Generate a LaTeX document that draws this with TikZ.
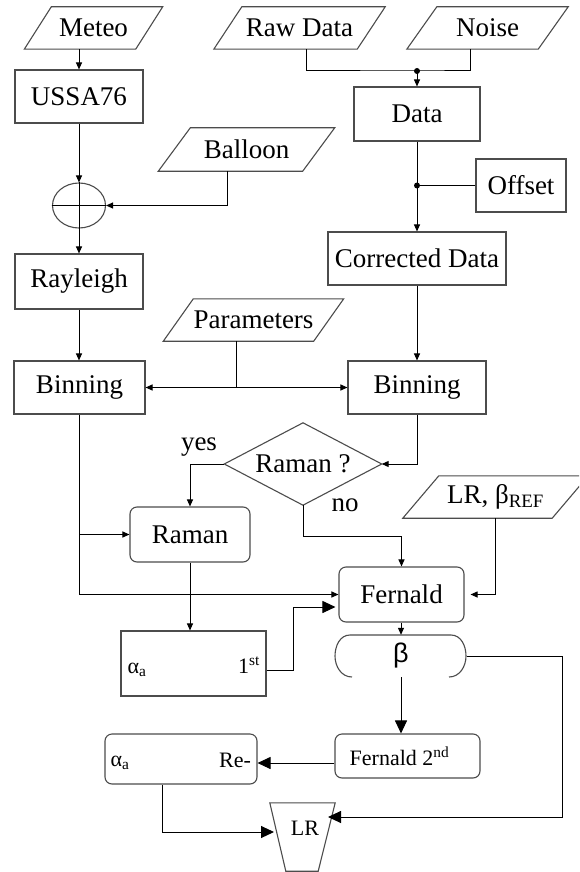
\documentclass[tikz,border=0pt]{standalone}
\usepackage{fontspec}
\setmainfont{Liberation Serif}
\newfontfamily\betafont{Liberation Sans}
\usetikzlibrary{arrows.meta,shapes.geometric,calc}
\definecolor{boxc}{gray}{0.3}
\begin{document}
\begin{tikzpicture}[x=1pt,y=-1pt,
  txt/.style={font=\fontsize{27}{30}\selectfont, inner sep=0pt},
  stxt/.style={font=\fontsize{22}{26}\selectfont, inner sep=0pt},
  boxline/.style={draw=boxc, line width=1.1pt},
  rbox/.style={boxline, txt},
  rrbox/.style={rbox, rounded corners=7pt},
  conn/.style={line width=1pt, draw=black},
  arr/.style={conn, -{Triangle[length=7pt,width=6pt]}},
  barr/.style={conn, -{Triangle[length=13pt,width=12pt]}},
  jdot/.style={circle, fill=black, inner sep=0pt, minimum size=6pt}
]
\useasboundingbox (0,0) rectangle (579,872);
\fill[white] (0,0) rectangle (579,872);

% ---------- parallelograms ----------
\node[txt, minimum width=111pt, minimum height=42pt] (meteo) at (93.5,28) {Meteo};
\draw[boxline] ([xshift=-13.5pt]meteo.south west) -- ([xshift=-13.5pt]meteo.south east) -- ([xshift=13.5pt]meteo.north east) -- ([xshift=13.5pt]meteo.north west) -- cycle;
\node[txt, minimum width=143pt, minimum height=42pt] (raw) at (299.5,28) {Raw Data};
\draw[boxline] ([xshift=-14pt]raw.south west) -- ([xshift=-14pt]raw.south east) -- ([xshift=14pt]raw.north east) -- ([xshift=14pt]raw.north west) -- cycle;
\node[txt, minimum width=131pt, minimum height=42pt] (noise) at (487.5,28) {Noise};
\draw[boxline] ([xshift=-15pt]noise.south west) -- ([xshift=-15pt]noise.south east) -- ([xshift=15pt]noise.north east) -- ([xshift=15pt]noise.north west) -- cycle;
\node[txt, minimum width=144pt, minimum height=43pt] (balloon) at (246.5,149.5) {Balloon};
\draw[boxline] ([xshift=-16pt]balloon.south west) -- ([xshift=-16pt]balloon.south east) -- ([xshift=16pt]balloon.north east) -- ([xshift=16pt]balloon.north west) -- cycle;
\node[txt, minimum width=150pt, minimum height=42pt] (param) at (253.5,320) {Parameters};
\draw[boxline] ([xshift=-15pt]param.south west) -- ([xshift=-15pt]param.south east) -- ([xshift=15pt]param.north east) -- ([xshift=15pt]param.north west) -- cycle;
\node[txt, minimum width=149pt, minimum height=42pt] (lrref) at (495.5,497) {LR, β\textsubscript{REF}};
\begin{scope}
\clip (0,0) rectangle (579,872);
\draw[boxline] ([xshift=-18pt]lrref.south west) -- ([xshift=-18pt]lrref.south east) -- ([xshift=18pt]lrref.north east) -- ([xshift=18pt]lrref.north west) -- cycle;
\end{scope}

% ---------- boxes ----------
\node[rbox, minimum width=128pt, minimum height=53pt] (ussa) at (79,96.5) {USSA76};
\node[boxline, ellipse, minimum width=53pt, minimum height=45pt, inner sep=0pt] (sum) at (79,205.5) {};
\node[rbox, minimum width=128pt, minimum height=55pt] (ray) at (79,281.5) {Rayleigh};
\node[rbox, minimum width=131pt, minimum height=53pt] (binL) at (79.5,387.5) {Binning};

\node[rbox, minimum width=126pt, minimum height=54pt] (data) at (417,114) {Data};
\node[rbox, minimum width=90pt, minimum height=53pt] (offset) at (521,185.5) {Offset};
\node[rbox, minimum width=178pt, minimum height=53pt] (corr) at (417,258.5) {Corrected Data};
\node[rbox, minimum width=138pt, minimum height=53pt] (binR) at (417,387.5) {Binning};

\node[txt, minimum width=157pt, minimum height=82pt] (dec) at (303,464) {Raman ?};
\draw[boxline] (dec.north) -- (dec.east) -- (dec.south) -- (dec.west) -- cycle;
\node[txt] (yes) at (199,447) {yes};
\node[txt] (no) at (345,505) {no};

\node[rrbox, minimum width=120pt, minimum height=55pt] (raman) at (190,534.5) {Raman};
\node[rrbox, minimum width=125pt, minimum height=55pt] (fern) at (401.5,594.5) {Fernald};

\node[boxline, minimum width=145pt, minimum height=65pt, inner sep=0pt] (first) at (193.5,663.5) {};
\node[stxt] (firsta) at (137,670) {α\textsubscript{a}};
\node[stxt] (firstt) at (249,665) {1\textsuperscript{st}};

\node[txt, minimum width=131pt, minimum height=42pt] (beta) at (401,656) {\betafont β};
\draw[boxline] (352,677) to[out=180,in=270] (335,656) to[out=90,in=180] (350,635) -- (451,635) to[out=0,in=90] (466,656) to[out=270,in=0] (449,677);

\node[rrbox, minimum width=145pt, minimum height=44pt, stxt] (fern2) at (407.5,756) {\hspace*{-16pt}Fernald 2\textsuperscript{nd}};
\node[boxline, rounded corners=7pt, minimum width=152pt, minimum height=50pt, inner sep=0pt] (re) at (181,759) {};
\node[stxt] (rea) at (120,763) {α\textsubscript{a}};
\node[stxt] (ret) at (235,760) {Re-};

\node[minimum width=65pt, minimum height=68pt, inner sep=0pt] (lrbox) at (302.5,837) {};
\draw[boxline] (lrbox.north west) -- (lrbox.north east) -- ([xshift=-17pt]lrbox.south east) -- ([xshift=16pt]lrbox.south west) -- cycle;
\node[stxt] (lr) at (305,828) {LR};
\coordinate (lrL) at (276,832);
\coordinate (lrR) at (332,817);

% ---------- connectors ----------
\draw[arr] (meteo.south -| sum) -- (ussa.north -| sum);
\draw[arr] (ussa.south -| sum) -- (sum.north);
\draw[arr] (sum.north) -- (ray.north -| sum);
\draw[conn] (sum.west) -- (sum.east);
\draw[arr] ([xshift=-19.5pt]balloon.south) |- (sum.east);
\draw[arr] (ray.south -| sum) -- (binL.north -| sum);

\coordinate (j1) at (417,71);
\draw[conn] ([xshift=6.5pt]raw.south) |- (j1) -| ([xshift=-17.5pt]noise.south);
\node[jdot] (d1) at (j1) {};
\draw[arr] (j1) -- (data.north);
\coordinate (j2) at (data.south |- offset.west);
\draw[arr] (data.south) -- (corr.north);
\draw[conn] (offset.west) -- (j2);
\node[jdot] (d2) at (j2) {};
\draw[arr] (corr.south) -- (binR.north);

\coordinate (pj) at ([xshift=-17.5pt]param.south |- binL.east);
\draw[conn] ([xshift=-17.5pt]param.south) -- (pj);
\draw[arr] (pj) -- (binL.east);
\draw[arr] (pj) -- (binR.west);

\draw[arr] (binR.south) |- (dec.east);
\draw[arr] (dec.west) -| (raman.north);
\coordinate (nj) at ([yshift=-31pt]dec.south);
\draw[arr] (dec.south) -- (nj) -| (fern.north);
\draw[arr] (binL.south) |- (fern.west);
\draw[arr] (binL.south |- raman.west) -- (raman.west);
\draw[arr] (raman.south) -- (raman.south |- first.north);
\draw[barr, shorten >=3pt] ([yshift=-6.5pt]first.east) -- ++(27,0) |- ([yshift=-12.5pt]fern.west);
\draw[arr, shorten >=6pt] (lrref.south) |- (fern.east);
\draw[arr] (fern.south -| beta) -- (beta.north);
\draw[barr] (beta.south) -- (beta.south |- fern2.north);
\draw[barr] ([yshift=-7pt]fern2.west) -- ([yshift=-7pt]fern2.west -| re.east);
\draw[barr, shorten >=2pt] ([xshift=-19pt]re.south) |- (lrL);
\draw[barr, shorten >=-4pt] (beta.east) -- (562,656) |- (lrR);
\end{tikzpicture}
\end{document}
